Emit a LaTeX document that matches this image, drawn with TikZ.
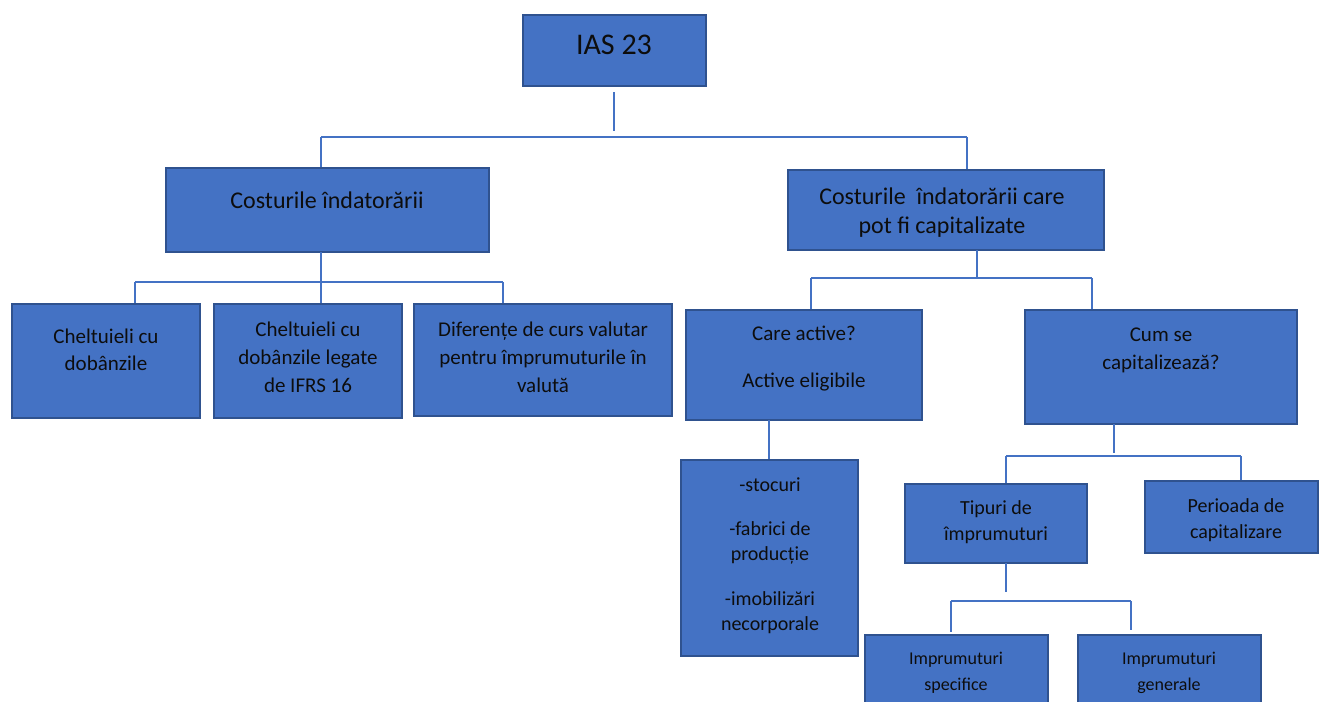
\documentclass[tikz,border=0pt]{standalone}
\usepackage{fontspec}
\setmainfont{Carlito}
\definecolor{boxfill}{HTML}{4472C4}
\definecolor{boxline}{HTML}{2F528F}
\definecolor{conncol}{HTML}{4472C4}
\newcommand\mkbox[5]{\node[boxstyle, minimum width={(#4-#2)*0.5pt}, minimum height={(#5-#3)*0.5pt}] (#1) at ({(#2+#4)/2},{(#3+#5)/2}) {};}
\tikzset{
  boxstyle/.style={draw=boxline, fill=boxfill, line width=1.1pt, rectangle, inner sep=0pt},
  conn/.style={draw=conncol, line width=0.9pt},
  txt/.style={text=black!95, align=center, inner sep=0pt},
}
\begin{document}
\begin{tikzpicture}[x=0.5pt,y=-0.5pt]
\useasboundingbox (0,0) rectangle (1319,702);
% boxes
\mkbox{ias}{523}{15}{706}{86}
\mkbox{ci}{166}{168}{489}{252}
\mkbox{cc}{788}{170}{1104}{250}
\mkbox{b1}{12}{304}{200}{418}
\mkbox{b2}{214}{304}{402}{418}
\mkbox{b3}{414}{304}{672}{416}
\mkbox{ca}{686}{310}{922}{420}
\mkbox{cum}{1025}{310}{1297}{424}
\mkbox{stoc}{681}{460}{858}{656}
\mkbox{tip}{905}{484}{1087}{563}
\mkbox{per}{1145}{481}{1318}{553}
\mkbox{spec}{865}{635}{1048}{712}
\mkbox{gen}{1078}{635}{1261}{712}
% texts
\node[txt, font=\fontsize{15}{18}\selectfont] (tias) at (614,45) {IAS 23};
\node[txt, font=\fontsize{12}{14.5}\selectfont] (tci) at (327,200) {Costurile îndatorării};
\node[txt, font=\fontsize{12}{14.5}\selectfont] (tcc) at (942,213) {Costurile \ îndatorării care\\pot fi capitalizate};
\node[txt, font=\fontsize{10.5}{13.5}\selectfont] (tb1) at (106,350) {Cheltuieli cu\\dobânzile};
\node[txt, font=\fontsize{10.5}{14}\selectfont] (tb2) at (308,357) {Cheltuieli cu\\dobânzile legate\\de IFRS 16};
\node[txt, font=\fontsize{10.5}{14}\selectfont] (tb3) at (543,357) {Diferențe de curs valutar\\pentru împrumuturile în\\valută};
\node[txt, font=\fontsize{10.5}{23.5}\selectfont] (tca) at (804,359) {Care active?\\Active eligibile};
\node[txt, font=\fontsize{10.5}{14}\selectfont] (tcum) at (1161,350) {Cum se\\capitalizează?};
\node[txt, font=\fontsize{10}{12.5}\selectfont] (tstoc) at (770,556) {-stocuri\\[9.5pt]-fabrici de\\producție\\[10pt]-imobilizări\\necorporale};
\node[txt, font=\fontsize{10}{13}\selectfont] (ttip) at (996,522) {Tipuri de\\împrumuturi};
\node[txt, font=\fontsize{10}{13}\selectfont] (tper) at (1236,520) {Perioada de\\capitalizare};
\node[txt, font=\fontsize{9}{13}\selectfont] (tspec) at (956,673) {Imprumuturi\\specifice};
\node[txt, font=\fontsize{9}{13}\selectfont] (tgen) at (1169,673) {Imprumuturi\\generale};
% junction coordinates
\coordinate (j1a) at (614,92);
\coordinate (j1b) at (614,131);
\coordinate (h1l) at (321,137);
\coordinate (h1r) at (967,137);
\coordinate (j2a) at (321,252);
\coordinate (h2l) at (135,282);
\coordinate (h2m) at (321,282);
\coordinate (h2r) at (503,282);
\coordinate (j3a) at (977,250);
\coordinate (h3l) at (811,278);
\coordinate (h3r) at (1092,278);
\coordinate (j4a) at (769,420);
\coordinate (j5a) at (1114,424);
\coordinate (j5b) at (1114,453);
\coordinate (h5l) at (1006,456);
\coordinate (h5r) at (1241,456);
\coordinate (j6a) at (1006,563);
\coordinate (j6b) at (1006,592);
\coordinate (h6l) at (951,601);
\coordinate (h6r) at (1131,601);
% connectors
\draw[conn] (j1a) -- (j1b);
\draw[conn] (h1l) -- (h1r);
\draw[conn] (h1l) -- (h1l |- ci.north);
\draw[conn] (h1r) -- (h1r |- cc.north);
\draw[conn] (j2a) -- (j2a |- b2.north);
\draw[conn] (h2l) -- (h2r);
\draw[conn] (h2l) -- (h2l |- b1.north);
\draw[conn] (h2r) -- (h2r |- b3.north);
\draw[conn] (j3a) -- (j3a |- h3l);
\draw[conn] (h3l) -- (h3r);
\draw[conn] (h3l) -- (h3l |- ca.north);
\draw[conn] (h3r) -- (h3r |- cum.north);
\draw[conn] (j4a) -- (j4a |- stoc.north);
\draw[conn] (j5a) -- (j5b);
\draw[conn] (h5l) -- (h5r);
\draw[conn] (h5l) -- (h5l |- tip.north);
\draw[conn] (h5r) -- (h5r |- per.north);
\draw[conn] (j6a) -- (j6b);
\draw[conn] (h6l) -- (h6r);
\draw[conn] (h6l) -- ([yshift=1pt]h6l |- spec.north);
\draw[conn] (h6r) -- ([yshift=2pt]h6r |- gen.north);
\end{tikzpicture}
\end{document}
